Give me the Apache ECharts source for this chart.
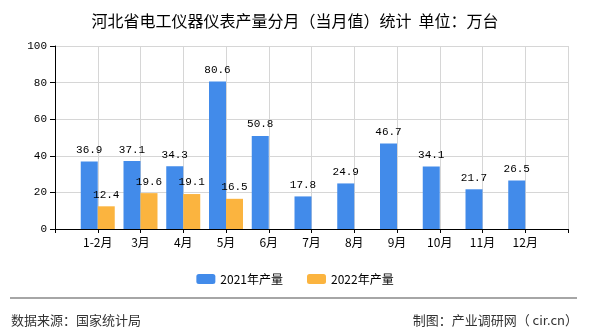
<!DOCTYPE html>
<html><head><meta charset="utf-8">
<script src="https://cdn.jsdelivr.net/npm/echarts@6/dist/echarts.min.js"></script>
<style>html,body{margin:0;padding:0;background:#fff}#c{width:590px;height:330px}</style>
</head><body><div id="c"></div>
<script>
var categories = ['1-2月','3月','4月','5月','6月','7月','8月','9月','10月','11月','12月'];
var values2021 = [36.9,37.1,34.3,80.6,50.8,17.8,24.9,46.7,34.1,21.7,26.5];
var values2022 = [12.4,19.6,19.1,16.5];
var yTicks = [0,20,40,60,80,100];
var seriesNames = ['2021年产量','2022年产量'];

// pad with empty slots at both ends so categories sit on ticks with a band of space on each side
var axisCats = [''].concat(categories).concat(['']);
function pad(arr){
  var out=[null];
  for(var i=0;i<categories.length;i++){ out.push(i<arr.length?arr[i]:null); }
  out.push(null);
  return out;
}
var cjk = '"Noto Sans CJK SC", sans-serif';
var mono = '"Liberation Mono", "DejaVu Sans Mono", monospace';
var chart = echarts.init(document.getElementById('c'));
var lbl = {show:true, position:'top', color:'#000', fontFamily:mono, fontSize:11, distance:6};
chart.setOption({
  animation:false,
  backgroundColor:'#fff',
  title:{text:'河北省电工仪器仪表产量分月（当月值）统计  单位：万台', left:'center', top:8,
    textStyle:{fontFamily:cjk, fontSize:16, fontWeight:'normal', color:'#000'}},
  legend:{data:seriesNames, top:268, left:'center', itemWidth:19, itemHeight:10, itemGap:24,
    textStyle:{fontFamily:cjk, fontSize:12, color:'#000'}},
  grid:{left:55, right:22, top:46, bottom:101, containLabel:false},
  xAxis:{type:'category', data:axisCats, boundaryGap:false,
    axisLine:{lineStyle:{color:'#000'}},
    axisTick:{show:true, interval:0, length:4, lineStyle:{color:'#000'}},
    axisLabel:{interval:0, color:'#000', fontFamily:cjk, fontSize:12, margin:7},
    splitLine:{show:true, interval:0, lineStyle:{color:'#d6d6d6'}}},
  yAxis:{type:'value', min:yTicks[0], max:yTicks[yTicks.length-1], interval:20,
    axisLine:{show:true, lineStyle:{color:'#000'}},
    axisTick:{show:true, length:5, lineStyle:{color:'#000'}},
    axisLabel:{color:'#000', fontFamily:mono, fontSize:11, margin:8},
    splitLine:{lineStyle:{color:'#d6d6d6'}}},
  series:[
    {name:seriesNames[0], type:'bar', data:pad(values2021), barWidth:17, barGap:'0%',
      itemStyle:{color:'#428bea'}, label:lbl},
    {name:seriesNames[1], type:'bar', data:pad(values2022), barWidth:17, barGap:'0%',
      itemStyle:{color:'#fbb43f'}, label:lbl}
  ],
  graphic:[
    {type:'line', shape:{x1:10,y1:298,x2:577,y2:298}, style:{stroke:'#888', lineWidth:1.5}},
    {type:'text', left:11, top:314, style:{text:'数据来源：国家统计局', font:'13px "Noto Sans CJK SC"', fill:'#333'}},
    {type:'text', right:12, top:314, style:{text:'制图：产业调研网（ cir.cn）', font:'13px "Noto Sans CJK SC"', fill:'#333'}}
  ]
});
</script></body></html>
